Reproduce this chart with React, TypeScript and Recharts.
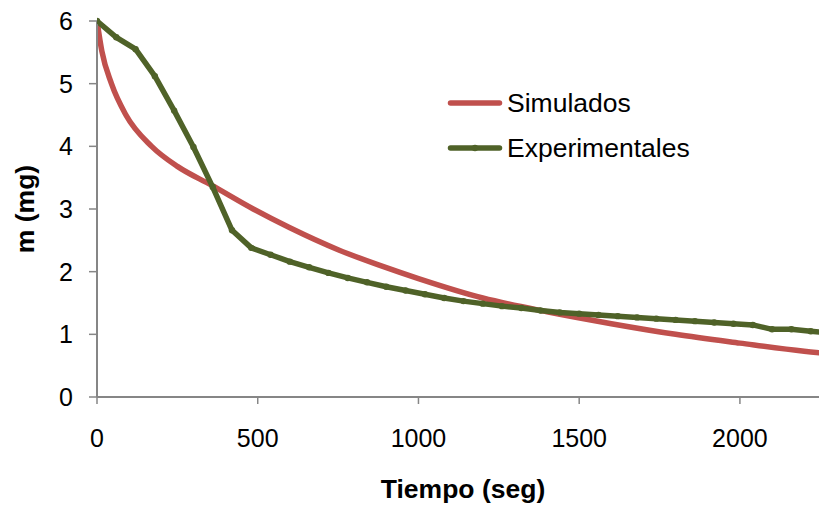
import { LineChart, Line, XAxis, YAxis, Label } from 'recharts'

const FONT = '"Liberation Sans", Arial, sans-serif'
const RED = '#C0504D'
const GREEN = '#4F6228'
const AXIS = '#868686'

// Experimentales: muestras cada 60 s
const expTime = [
  0, 60, 120, 180, 240, 300, 360, 420, 480, 540, 600, 660, 720, 780, 840, 900, 960, 1020, 1080, 1140,
  1200, 1260, 1320, 1380, 1440, 1500, 1560, 1620, 1680, 1740, 1800, 1860, 1920, 1980, 2040, 2100, 2160,
  2220, 2280,
]
const expMass = [
  6.0, 5.74, 5.55, 5.12, 4.57, 3.99, 3.35, 2.66, 2.38, 2.27, 2.16, 2.07, 1.98, 1.9, 1.83, 1.76, 1.7, 1.64,
  1.58, 1.53, 1.49, 1.45, 1.42, 1.38, 1.35, 1.33, 1.31, 1.29, 1.27, 1.25, 1.23, 1.21, 1.19, 1.17, 1.15,
  1.08, 1.08, 1.05, 1.02,
]

// Simulados
const simTime = [0, 15, 45, 90, 170, 250, 356, 486, 600, 750, 880, 1000, 1200, 1400, 1600, 1800, 2000, 2200, 2300]
const simMass = [6.0, 5.52, 5.0, 4.5, 4.0, 3.68, 3.38, 3.0, 2.7, 2.35, 2.1, 1.89, 1.58, 1.36, 1.17, 1.0, 0.86, 0.73, 0.68]

const xTicks = [0, 500, 1000, 1500, 2000]
const yTicks = [0, 1, 2, 3, 4, 5, 6]

const legendItems = [
  { name: 'Simulados', color: RED, marker: false },
  { name: 'Experimentales', color: GREEN, marker: true },
]

const expData = expTime.map((t, i) => ({ t, m: expMass[i] }))
const simData = simTime.map((t, i) => ({ t, m: simMass[i] }))

function ChartLegend() {
  return (
    <div style={{ position: 'absolute', left: 445, top: 80, fontFamily: FONT, fontSize: 26.5, color: '#000' }}>
      {legendItems.map((item) => (
        <div key={item.name} style={{ display: 'flex', alignItems: 'center', height: 45.5 }}>
          <svg width={62} height={12} style={{ display: 'block' }}>
            <line x1={5.5} x2={54.5} y1={6} y2={6} stroke={item.color} strokeWidth={5.5} strokeLinecap="round" />
            {item.marker && <circle cx={30} cy={6} r={3.2} fill={GREEN} />}
          </svg>
          <span style={{ lineHeight: 1 }}>{item.name}</span>
        </div>
      ))}
    </div>
  )
}

export default function App() {
  return (
    <div style={{ position: 'absolute', left: 0, top: 0, width: 819, height: 508, background: '#fff' }}>
      <LineChart width={819} height={508} margin={{ top: 21, right: 0, bottom: 0, left: 0 }}>
        <XAxis
          type="number"
          dataKey="t"
          domain={[0, 2246]}
          allowDataOverflow
          ticks={xTicks}
          height={111}
          axisLine={{ stroke: AXIS, strokeWidth: 2 }}
          tickLine={{ stroke: AXIS, strokeWidth: 1.5 }}
          tickSize={7}
          tickMargin={25}
          tick={{ fill: '#000', fontSize: 25, fontFamily: FONT }}
        >
          <Label
            content={() => (
              <text x={463} y={498} textAnchor="middle" fontFamily={FONT} fontSize={26.5} fontWeight="bold" fill="#000">
                Tiempo (seg)
              </text>
            )}
          />
        </XAxis>
        <YAxis
          type="number"
          dataKey="m"
          domain={[0, 6]}
          ticks={yTicks}
          width={97}
          axisLine={{ stroke: AXIS, strokeWidth: 2 }}
          tickLine={{ stroke: AXIS, strokeWidth: 1.5 }}
          tickSize={8}
          tickMargin={16}
          tick={{ fill: '#000', fontSize: 25, fontFamily: FONT }}
        >
          <Label
            content={() => (
              <text
                x={25}
                y={209}
                transform="rotate(-90 25 209)"
                textAnchor="middle"
                dominantBaseline="central"
                fontFamily={FONT}
                fontSize={26.5}
                fontWeight="bold"
                fill="#000"
              >
                m (mg)
              </text>
            )}
          />
        </YAxis>
        <Line
          data={simData}
          dataKey="m"
          name="Simulados"
          type="monotone"
          stroke={RED}
          strokeWidth={5.5}
          dot={false}
          isAnimationActive={false}
        />
        <Line
          data={expData}
          dataKey="m"
          name="Experimentales"
          type="linear"
          stroke={GREEN}
          strokeWidth={5.5}
          strokeLinejoin="round"
          dot={{ r: 3.2, fill: GREEN, stroke: 'none' }}
          isAnimationActive={false}
        />
      </LineChart>
      <ChartLegend />
    </div>
  )
}
